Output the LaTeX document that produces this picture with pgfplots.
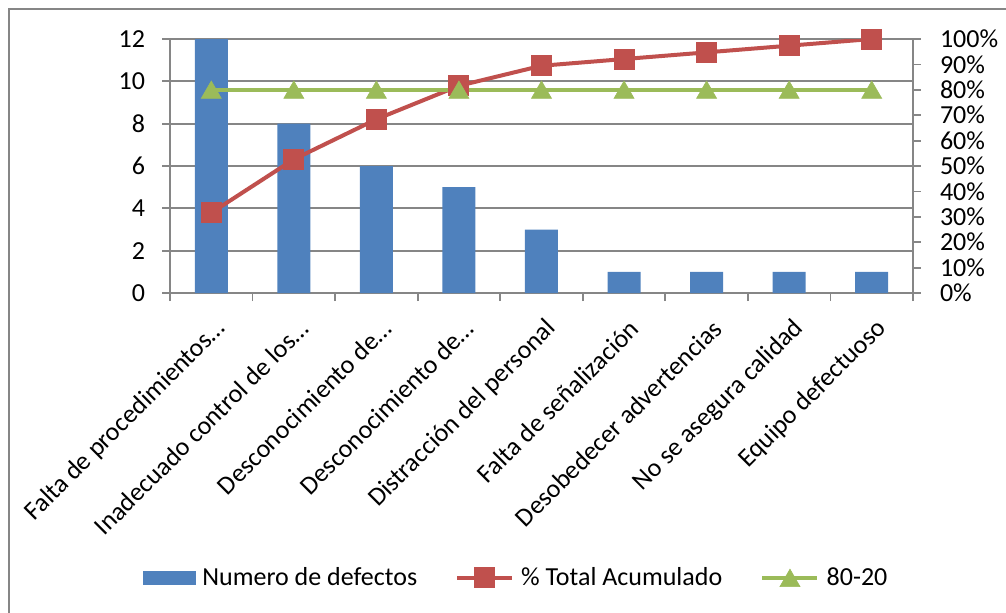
\documentclass[border=0pt]{standalone}
\usepackage{fontspec}
\setmainfont{Carlito}
\usepackage{pgfplots}
\pgfplotsset{compat=1.18}

\definecolor{barblue}{HTML}{4F81BD}
\definecolor{cumred}{HTML}{C0504D}
\definecolor{refgreen}{HTML}{9BBB59}
\definecolor{axgray}{HTML}{868686}

\newcommand{\chartfont}{\fontsize{13}{15.6}\selectfont}

\pgfplotsset{
  pareto base/.style={
    scale only axis,
    width=371.5pt, height=127pt,
    at={(85pt,159.5pt)}, anchor=south west,
    xmin=-0.5, xmax=8.5,
    tick align=outside,
    major tick length=4pt,
    minor tick length=4pt,
    every tick/.style={draw=axgray, line width=0.9pt},
    axis line style={draw=axgray, line width=0.9pt},
    tick label style={font=\chartfont},
  },
  long line legend/.style={
    legend image code/.code={\draw[mark repeat=2, mark phase=2, ##1]
      plot coordinates {(0pt,0pt) (13.75pt,0pt) (27.5pt,0pt)};}
  },
  bar legend/.style={
    legend image code/.code={\fill[barblue] (0pt,-3.4pt) rectangle (26pt,3.4pt);}
  },
}

\begin{document}
\begin{tikzpicture}
\useasboundingbox (0,0) rectangle (503pt,306pt);

% chart frame
\draw[axgray, line width=0.9pt] (4.5pt,-2pt) -- (4.5pt,301.5pt) -- (505pt,301.5pt);

% number of defects per cause
\begin{axis}[
  pareto base,
  axis x line*=bottom, axis y line*=left,
  ymin=0, ymax=12,
  ytick={0,2,...,12},
  yticklabels={0,2,4,6,8,10,12},
  yticklabel style={xshift=-5pt},
  ymajorgrids,
  grid style={draw=axgray, line width=0.9pt},
  xtick={0,...,8},
  major x tick style={draw=none},
  minor xtick={-0.5,0.5,...,8.5},
  xticklabels={
    Falta de procedimientos…,
    Inadecuado control de los…,
    Desconocimiento de…,
    Desconocimiento de…,
    Distracción del personal,
    Falta de señalización,
    Desobedecer advertencias,
    No se asegura calidad,
    Equipo defectuoso},
  xticklabel style={rotate=45, anchor=east, inner sep=1pt, yshift=-12pt, xshift=-3.5pt},
]
\addplot[ybar, bar width=16.5pt, fill=barblue, draw=none] coordinates {
  (0,12) (1,8) (2,6) (3,5) (4,3) (5,1) (6,1) (7,1) (8,1)
};
\end{axis}

% cumulative percentage and 80 % reference
\begin{axis}[
  pareto base,
  axis x line=none, axis y line*=right,
  ymin=0, ymax=100,
  ytick={0,10,...,100},
  yticklabels={0\%,10\%,20\%,30\%,40\%,50\%,60\%,70\%,80\%,90\%,100\%},
  yticklabel style={xshift=6pt},
  legend columns=3,
  legend style={
    at={(0.469,-1.122)}, anchor=center,
    draw=none, fill=none, font=\chartfont,
    nodes={inner xsep=3.5pt},
    /tikz/every even column/.append style={column sep=15.5pt},
  },
]
\addlegendimage{bar legend}
\addlegendentry{Numero de defectos}

\addplot[cumred, line width=2pt, mark=square*, mark size=5pt,
  mark options={solid, fill=cumred, draw=cumred, line width=0.5pt},
  long line legend]
coordinates {
  (0,31.58) (1,52.63) (2,68.42) (3,81.58) (4,89.47)
  (5,92.11) (6,94.74) (7,97.37) (8,100)
};
\addlegendentry{\% Total Acumulado}

\addplot[refgreen, line width=2.2pt, mark=triangle*, mark size=5.8pt,
  mark options={solid, fill=refgreen, draw=refgreen, line width=0.3pt, yshift=-1.4pt},
  long line legend]
coordinates {
  (0,80) (1,80) (2,80) (3,80) (4,80) (5,80) (6,80) (7,80) (8,80)
};
\addlegendentry{80-20}
\end{axis}
\end{tikzpicture}
\end{document}
